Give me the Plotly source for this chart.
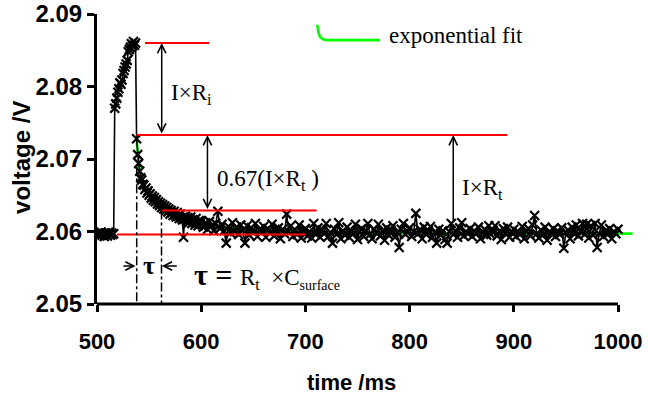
import plotly.graph_objects as go

# ---------------- data ----------------
time_fast = list(range(500, 600))          # 1 ms sampling around the pulse
time_slow = list(range(600, 1001, 2))      # 2 ms sampling afterwards

volt_fast = [
    # 500-516 baseline
    2.0597, 2.0594, 2.0598, 2.0596, 2.0599, 2.0595, 2.0597, 2.0593, 2.0598, 2.0596,
    2.0594, 2.0599, 2.0597, 2.0595, 2.0598, 2.0596, 2.0597,
    # 517-537 current on
    2.0770, 2.0776, 2.0784, 2.0792, 2.0797, 2.0805, 2.0803, 2.0809, 2.0818, 2.0822,
    2.0827, 2.0831, 2.0836, 2.0848, 2.0851, 2.0854, 2.0859, 2.0856, 2.0862, 2.0857,
    2.0860,
    # 538-599 relaxation
    2.0728, 2.0706, 2.0694, 2.0683, 2.0674, 2.0671, 2.0665, 2.0664, 2.0658, 2.0660,
    2.0653, 2.0656, 2.0650, 2.0652, 2.0646, 2.0649, 2.0643, 2.0647, 2.0641, 2.0644,
    2.0638, 2.0641, 2.0636, 2.0639, 2.0633, 2.0637, 2.0631, 2.0635, 2.0629, 2.0633,
    2.0627, 2.0631, 2.0624, 2.0629, 2.0626, 2.0622, 2.0628, 2.0623, 2.0620, 2.0626,
    2.0621, 2.0618, 2.0624, 2.0619, 2.0616, 2.0592, 2.0617, 2.0621, 2.0614, 2.0619,
    2.0612, 2.0617, 2.0620, 2.0611, 2.0616, 2.0613, 2.0609, 2.0618, 2.0612, 2.0608,
    2.0615, 2.0611,
]

volt_slow = [
    2.0615, 2.0606, 2.0612, 2.0603, 2.0614, 2.0608, 2.0601, 2.0611, 2.0628, 2.0604,
    2.0610, 2.0601, 2.0584, 2.0607, 2.0598, 2.0612, 2.0600, 2.0606, 2.0596, 2.0609,
    2.0602, 2.0584, 2.0608, 2.0595, 2.0605, 2.0599, 2.0611, 2.0593, 2.0603, 2.0600,
    2.0607, 2.0592, 2.0604, 2.0598, 2.0610, 2.0594, 2.0601, 2.0605, 2.0590, 2.0603,
    2.0597, 2.0624, 2.0600, 2.0608, 2.0593, 2.0602, 2.0596, 2.0609, 2.0591, 2.0601,
    2.0604, 2.0594, 2.0600, 2.0591, 2.0611, 2.0596, 2.0605, 2.0592, 2.0602, 2.0597,
    2.0611, 2.0593, 2.0599, 2.0584, 2.0603, 2.0596, 2.0612, 2.0590, 2.0601, 2.0595,
    2.0606, 2.0592, 2.0601, 2.0597, 2.0610, 2.0589, 2.0600, 2.0604, 2.0593, 2.0601,
    2.0611, 2.0596, 2.0590, 2.0603, 2.0598, 2.0610, 2.0594, 2.0601, 2.0588, 2.0605,
    2.0595, 2.0602, 2.0608, 2.0592, 2.0599, 2.0578, 2.0603, 2.0611, 2.0596, 2.0600,
    2.0605, 2.0593, 2.0600, 2.0625, 2.0597, 2.0603, 2.0590, 2.0606, 2.0596, 2.0601,
    2.0607, 2.0592, 2.0599, 2.0584, 2.0603, 2.0595, 2.0601, 2.0589, 2.0584, 2.0600,
    2.0611, 2.0596, 2.0601, 2.0592, 2.0605, 2.0612, 2.0594, 2.0600, 2.0597, 2.0604,
    2.0593, 2.0601, 2.0597, 2.0606, 2.0590, 2.0599, 2.0603, 2.0595, 2.0608, 2.0596,
    2.0602, 2.0608, 2.0594, 2.0600, 2.0589, 2.0604, 2.0597, 2.0606, 2.0592, 2.0599,
    2.0603, 2.0593, 2.0600, 2.0596, 2.0607, 2.0590, 2.0601, 2.0604, 2.0594, 2.0609,
    2.0622, 2.0597, 2.0591, 2.0602, 2.0595, 2.0606, 2.0588, 2.0600, 2.0597, 2.0604,
    2.0593, 2.0601, 2.0596, 2.0605, 2.0577, 2.0599, 2.0602, 2.0590, 2.0606, 2.0597,
    2.0609, 2.0594, 2.0600, 2.0611, 2.0596, 2.0610, 2.0591, 2.0608, 2.0595, 2.0611,
    2.0578, 2.0597, 2.0609, 2.0593, 2.0601, 2.0596, 2.0604, 2.0590, 2.0600, 2.0597,
    2.0603,
]

fit_time = [538, 540, 542, 545, 549, 555, 563, 576, 596, 615, 640, 680, 750, 850, 1014]
fit_volt = [2.0728, 2.0695, 2.0677, 2.0663, 2.0654, 2.0645, 2.0635, 2.0624, 2.0614,
            2.0607, 2.0603, 2.0600, 2.0598, 2.0597, 2.0597]

# characteristic voltage levels (red guide lines)
v_peak = 2.0860
v_drop = 2.0733
v_067 = 2.0629
v_base = 2.0596

x_ticks = [500, 600, 700, 800, 900, 1000]

time_all = time_fast + time_slow
volt_all = volt_fast + volt_slow

# ---------------- figure ----------------
SERIF = "Liberation Serif"
SANS = "Liberation Sans"
RED = "#ff0000"
GREEN = "#00ff00"

fig = go.Figure()
fig.add_trace(go.Scatter(
    x=fit_time, y=fit_volt, mode="lines",
    line=dict(color=GREEN, width=2.6, shape="spline"),
    hoverinfo="skip",
))
fig.add_trace(go.Scatter(
    x=time_all, y=volt_all, mode="lines+markers",
    line=dict(color="black", width=1.6),
    marker=dict(symbol="x-thin", size=9, color="black",
                line=dict(width=2.2, color="black")),
))

shapes = []
def hline(y, x0, x1):
    shapes.append(dict(type="line", xref="x", yref="y", x0=x0, x1=x1, y0=y, y1=y,
                       line=dict(color=RED, width=2)))
hline(v_peak, 546, 607.8)
hline(v_drop, 538, 893.8)
hline(v_067, 562, 710.8)
hline(v_base, 519, 700)

for xv, ytop in [(538.1, 2.0690), (561.9, v_067)]:
    shapes.append(dict(type="line", xref="x", yref="y", x0=xv, x1=xv, y0=ytop, y1=2.05,
                       line=dict(color="black", width=1.5, dash="dashdot")))

# x axis line (only 500-1000)
shapes.append(dict(type="line", xref="x", yref="paper", x0=500, x1=1000, y0=0, y1=0,
                   line=dict(color="black", width=3)))

# legend sample for the fit
shapes.append(dict(type="path", xref="x", yref="y",
                   path="M 711.4,2.0885 L 712.6,2.0874 Q 714.0,2.0864 720.7,2.0864 L 771.6,2.0864",
                   line=dict(color=GREEN, width=2.6)))

annotations = []
def arrow(x, y_head, y_tail, both=True, x_tail=None):
    a = dict(x=x, y=y_head, xref="x", yref="y", axref="x", ayref="y",
             ax=x if x_tail is None else x_tail, ay=y_tail, text="",
             showarrow=True, arrowhead=5, arrowsize=1.1, arrowwidth=1.5,
             arrowcolor="black", standoff=0, startstandoff=0)
    if both:
        a.update(arrowside="end+start", startarrowhead=5, startarrowsize=1.1)
    annotations.append(a)

arrow(562.1, v_peak, v_drop)
arrow(606.0, v_drop, v_067)
arrow(841.9, v_drop, 2.0612, both=False)
arrow(537.0, 2.05524, 2.05524, both=False, x_tail=523.9)
arrow(562.3, 2.05524, 2.05524, both=False, x_tail=578.0)

def label(x, y, text, size=23, xanchor="left"):
    annotations.append(dict(x=x, y=y, xref="x", yref="y", text=text, showarrow=False,
                            xanchor=xanchor, yanchor="middle",
                            font=dict(family=SERIF, size=size, color="black")))

label(569.1, 2.0789, "I×R<sub>i</sub>")
label(613.2, 2.0671, "0.67(I×R<sub>t</sub> )")
label(848.4, 2.0658, "I×R<sub>t</sub>")
label(778.3, 2.0870, "exponential fit")
label(549.9, 2.0553, "<b>τ</b>", size=26, xanchor="center")
label(591.2, 2.0540,
      "<b><span style='font-size:30px'>τ = </span></b>R<sub>t</sub>  ×C"
      "<sub><span style='font-size:14px'>surface</span></sub>")

# axis titles
annotations.append(dict(x=-0.140, y=0.507, xref="paper", yref="paper", text="voltage /V",
                        textangle=-90, showarrow=False, xanchor="center", yanchor="middle",
                        font=dict(family=SANS, size=24, color="black", weight="bold")))
annotations.append(dict(x=0.474, y=-0.272, xref="paper", yref="paper", text="time /ms",
                        showarrow=False, xanchor="center", yanchor="middle",
                        font=dict(family=SANS, size=22, color="black", weight="bold")))

fig.update_layout(
    width=648, height=403,
    margin=dict(l=97, r=15, t=14, b=99, autoexpand=False),
    paper_bgcolor="white", plot_bgcolor="white",
    showlegend=False,
    shapes=shapes, annotations=annotations,
    xaxis=dict(range=[500, 1014.4], tickmode="array", tickvals=x_ticks,
               ticks="outside", ticklen=7, tickwidth=2.5, tickcolor="black",
               showline=False, showgrid=False, zeroline=False, automargin=False,
               ticklabelstandoff=11,
               tickfont=dict(family=SANS, size=22, color="black", weight="bold")),
    yaxis=dict(range=[2.05, 2.09], dtick=0.01, tickformat=".2f",
               ticks="outside", ticklen=7, tickwidth=2.5, tickcolor="black",
               showline=True, linewidth=3, linecolor="black",
               showgrid=False, zeroline=False, automargin=False,
               tickfont=dict(family=SANS, size=24, color="black", weight="bold")),
)

fig.write_html("out.html")
